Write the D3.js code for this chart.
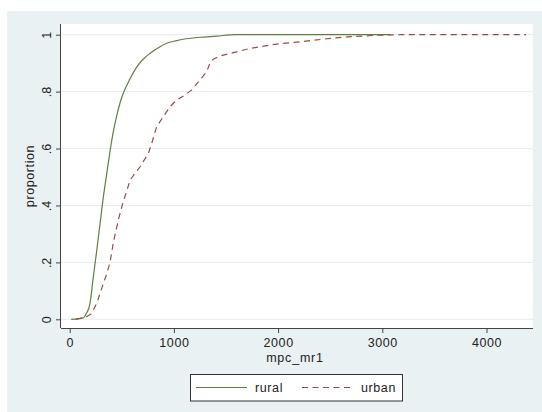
<!DOCTYPE html>
<html><head><meta charset="utf-8">
<script src="https://cdn.jsdelivr.net/npm/d3@7"></script>
<style>body{margin:0;background:#fff}svg{display:block}text{font-family:"Liberation Sans",Arial,sans-serif;fill:#222}</style>
</head><body><svg id="c" width="542" height="412"></svg>
<script>
const ruralX=[15,130,160,195,227,259,291,323,355,387,419,451,483,515,579,643,700,772,867,931,1027,1090,1250,1411,1586,3080];
const ruralY=[0,0.005,0.02,0.056,0.15,0.24,0.335,0.43,0.51,0.59,0.66,0.715,0.76,0.795,0.845,0.886,0.912,0.935,0.958,0.970,0.979,0.984,0.991,0.995,1.0,1.0];
const urbanX=[60,99,163,211,259,291,323,355,387,419,467,515,547,579,627,675,755,787,835,899,963,1027,1107,1171,1250,1315,1346,1378,1442,1570,1699,1826,1987,2210,2306,2498,2690,2946,3170,4380];
const urbanY=[0,0.003,0.009,0.021,0.056,0.09,0.126,0.16,0.2,0.27,0.35,0.415,0.45,0.489,0.513,0.536,0.583,0.618,0.677,0.712,0.747,0.771,0.788,0.806,0.841,0.870,0.900,0.914,0.925,0.937,0.949,0.958,0.967,0.975,0.979,0.987,0.993,0.998,1.0,1.0];
const xTicks=[0,1000,2000,3000,4000];
const yTicks=[0,0.2,0.4,0.6,0.8,1];
const yTickLabels=["0",".2",".4",".6",".8","1"];
const seriesNames=["rural","urban"];

const svg=d3.select("#c");
svg.append("rect").attr("x",7).attr("y",11).attr("width",535).attr("height",401).attr("fill","#eaf1f3");
const L=61,R=533,T=24,B=328;
svg.append("rect").attr("x",L).attr("y",T).attr("width",R-L).attr("height",B-T).attr("fill","#fff");
const x=d3.scaleLinear().domain([0,4000]).range([69.7,486.5]);
const y=d3.scaleLinear().domain([0,1]).range([319.3,34.7]);

svg.append("g").selectAll("line").data(yTicks).join("line")
 .attr("x1",L).attr("x2",R).attr("y1",d=>y(d)).attr("y2",d=>y(d))
 .attr("stroke","#e4edf0").attr("stroke-width",1);

const ya=d3.axisLeft(y).tickValues(yTicks).tickSize(5).tickFormat((d,i)=>yTickLabels[i]);
const gy=svg.append("g").attr("transform",`translate(${L},0)`).call(ya);
gy.select(".domain").attr("d",`M-0.5,${T}V${B}`).attr("stroke","#444");
gy.selectAll(".tick line").attr("stroke","#444");
gy.selectAll(".tick text").attr("transform","rotate(-90)").attr("x",0).attr("y",-14).attr("dy","0.32em")
 .attr("text-anchor","middle").style("font-size","12.5px").attr("fill","#222");
const xa=d3.axisBottom(x).tickValues(xTicks).tickSize(5).tickFormat(d3.format("d"));
const gx=svg.append("g").attr("transform",`translate(0,${B})`).call(xa);
gx.select(".domain").attr("d",`M${L},0.5H${R}`).attr("stroke","#444");
gx.selectAll(".tick line").attr("stroke","#444");
gx.selectAll(".tick text").attr("y",10).style("font-size","12.5px").style("letter-spacing","0.6px").attr("fill","#222");
gy.selectAll("text").style("font-family","Liberation Sans, Arial, sans-serif");
gx.selectAll("text").style("font-family","Liberation Sans, Arial, sans-serif");

svg.append("text").attr("transform","translate(34,176) rotate(-90)").attr("text-anchor","middle")
 .style("font-size","12.5px").style("letter-spacing","0.6px").text("proportion");
svg.append("text").attr("x",295).attr("y",362).attr("text-anchor","middle")
 .style("font-size","12.5px").style("letter-spacing","0.8px").text("mpc_mr1");

const lineR=d3.line().x(d=>x(d[0])).y(d=>y(d[1])).curve(d3.curveMonotoneX);
const lineU=d3.line().x(d=>x(d[0])).y(d=>y(d[1]));
const cols=["#5f7f3f","#9b4a4a"];
const dash=[null,"6,4.5"];
svg.append("path").datum(d3.zip(ruralX,ruralY)).attr("d",lineR).attr("fill","none").attr("stroke",cols[0]).attr("stroke-width",1.2);
svg.append("path").datum(d3.zip(urbanX,urbanY)).attr("d",lineU).attr("fill","none").attr("stroke",cols[1]).attr("stroke-width",1.2).attr("stroke-dasharray",dash[1]);

const lg=svg.append("g");
lg.append("rect").attr("x",190.5).attr("y",374.5).attr("width",212).attr("height",26.5).attr("fill","#fff").attr("stroke","#333").attr("stroke-width",1);
const lx=[196,302];
seriesNames.forEach((n,i)=>{
  lg.append("line").attr("x1",lx[i]).attr("x2",lx[i]+51).attr("y1",387.5).attr("y2",387.5)
   .attr("stroke",cols[i]).attr("stroke-width",1.2).attr("stroke-dasharray",dash[i]);
  lg.append("text").attr("x",lx[i]+59).attr("y",392).style("font-size","12.5px").style("letter-spacing","0.6px").text(n);
});
</script></body></html>
